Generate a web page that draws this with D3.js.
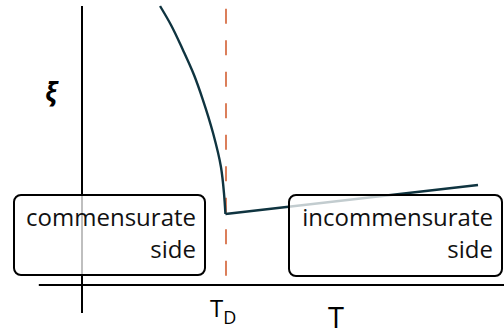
<!DOCTYPE html>
<html>
<head>
<meta charset="utf-8">
<script src="https://cdn.jsdelivr.net/npm/d3@7"></script>
<style>
  body { margin: 0; background: #fff; }
  text { font-family: "Open Sans", "Noto Sans", sans-serif; }
</style>
</head>
<body>
<div id="chart-area"></div>
<script>
// data (T in units of T_D, xi in arbitrary units)
const lowT = [0.542, 0.618, 0.701, 0.778, 0.840, 0.910, 0.965, 0.986, 0.996];
const lowXi = [3.0, 2.796, 2.527, 2.258, 1.989, 1.634, 1.269, 0.989, 0.763];
const highT = [0.996, 2.75];
const highXi = [0.763, 1.075];
const tD = 1.0;
const boxLabels = [['commensurate', 'side'], ['incommensurate', 'side']];

const width = 504;
const height = 328;

const svg = d3.select('#chart-area')
  .append('svg')
  .attr('width', width)
  .attr('height', height);

// scales: origin of axes at (82, 285)
const x = d3.scaleLinear().domain([0, 1]).range([82, 226]);
const y = d3.scaleLinear().domain([0, 3]).range([285, 6]);

const lineColor = '#0f3440';

// axes
svg.append('line')
  .attr('x1', x(-0.3)).attr('x2', width)
  .attr('y1', y(0)).attr('y2', y(0))
  .attr('stroke', '#000').attr('stroke-width', 2);

svg.append('line')
  .attr('x1', x(0)).attr('x2', x(0))
  .attr('y1', y(3)).attr('y2', y(-0.3))
  .attr('stroke', '#000').attr('stroke-width', 2);

// T_D dashed marker
svg.append('line')
  .attr('x1', x(tD)).attr('x2', x(tD))
  .attr('y1', y(2.97)).attr('y2', y(0.075))
  .attr('stroke', '#d35f32').attr('stroke-width', 1.6)
  .attr('stroke-dasharray', '15,16.5');

// xi curves
const low = lowT.map((t, i) => [t, lowXi[i]]);
const high = highT.map((t, i) => [t, highXi[i]]);

svg.append('path')
  .datum(low)
  .attr('fill', 'none')
  .attr('stroke', lineColor)
  .attr('stroke-width', 2.4)
  .attr('d', d3.line().x(d => x(d[0])).y(d => y(d[1])).curve(d3.curveMonotoneY));

svg.append('path')
  .datum(high)
  .attr('fill', 'none')
  .attr('stroke', lineColor)
  .attr('stroke-width', 2.4)
  .attr('d', d3.line().x(d => x(d[0])).y(d => y(d[1])));

// label boxes
const boxes = [
  {x: 14, y: 195, w: 191, h: 80, tx: 196},
  {x: 289, y: 195, w: 213, h: 81, tx: 493}
];

boxes.forEach((b, i) => {
  svg.append('rect')
    .attr('x', b.x).attr('y', b.y)
    .attr('width', b.w).attr('height', b.h)
    .attr('rx', 7)
    .attr('fill', 'white').attr('fill-opacity', 0.75)
    .attr('stroke', '#000').attr('stroke-width', 2);

  boxLabels[i].forEach((s, j) => {
    svg.append('text')
      .attr('x', b.tx)
      .attr('y', 226 + j * 31.5)
      .attr('text-anchor', 'end')
      .attr('font-size', '24px')
      .attr('fill', '#111')
      .text(s);
  });
});

// axis labels
svg.append('text')
  .attr('x', 51).attr('y', 102)
  .attr('text-anchor', 'middle')
  .attr('font-family', '"DejaVu Serif", serif')
  .attr('font-style', 'italic')
  .attr('font-weight', 'bold')
  .attr('font-size', '26px')
  .text('ξ');

const td = svg.append('text')
  .attr('x', 210).attr('y', 317)
  .attr('font-size', '24px');
td.append('tspan').text('T');
td.append('tspan').attr('dy', 7).attr('font-size', '18px').text('D');

svg.append('text')
  .attr('x', 336).attr('y', 328)
  .attr('text-anchor', 'middle')
  .attr('font-size', '29px')
  .text('T');
</script>
</body>
</html>
